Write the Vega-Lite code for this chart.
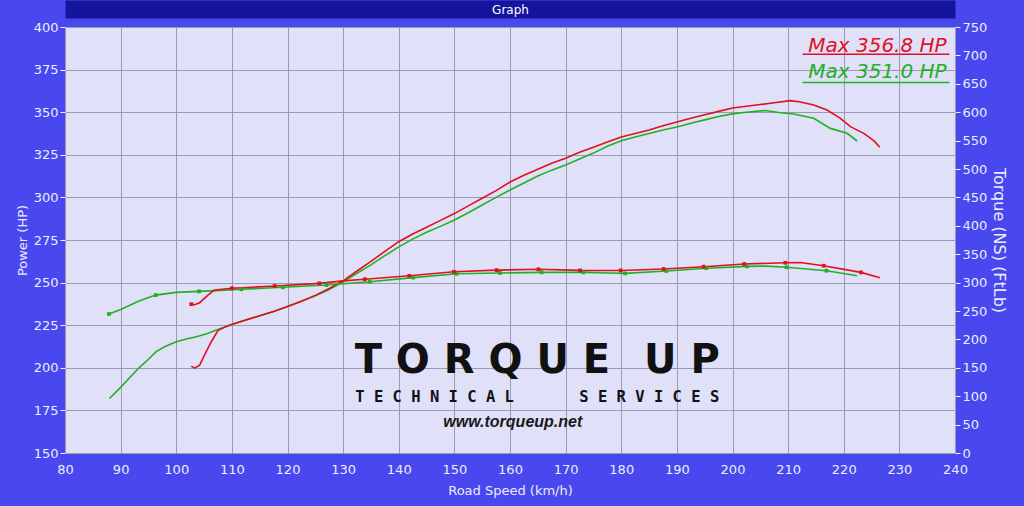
{
  "$schema": "https://vega.github.io/schema/vega-lite/v6.json",
  "width": 890,
  "height": 426,
  "autosize": {"type": "none"},
  "padding": {"left": 65, "top": 27, "right": 69, "bottom": 53},
  "background": "#4848ee",
  "config": {
    "view": {"fill": "#e0e0f9", "stroke": null},
    "axis": {
      "labelColor": "#ececff", "labelFont": "DejaVu Sans", "labelFontSize": 13,
      "titleColor": "#ececff", "titleFont": "DejaVu Sans", "titleFontSize": 13, "titleFontWeight": "normal",
      "tickColor": "#ececff", "domain": false, "labelOverlap": false
    }
  },
  "datasets": {
    "power": [
      {"run": "Run 1", "speed": 88, "hp": 182},
      {"run": "Run 1", "speed": 90, "hp": 188.5},
      {"run": "Run 1", "speed": 91.7, "hp": 194.5},
      {"run": "Run 1", "speed": 93.4, "hp": 200.3},
      {"run": "Run 1", "speed": 95, "hp": 205},
      {"run": "Run 1", "speed": 96.4, "hp": 209.5},
      {"run": "Run 1", "speed": 98, "hp": 212.5},
      {"run": "Run 1", "speed": 100, "hp": 215.3},
      {"run": "Run 1", "speed": 102, "hp": 217},
      {"run": "Run 1", "speed": 103.6, "hp": 218.2},
      {"run": "Run 1", "speed": 105.5, "hp": 220},
      {"run": "Run 1", "speed": 107.2, "hp": 222.2},
      {"run": "Run 1", "speed": 110.2, "hp": 225.5},
      {"run": "Run 1", "speed": 112.5, "hp": 228},
      {"run": "Run 1", "speed": 115, "hp": 230.5},
      {"run": "Run 1", "speed": 117.5, "hp": 233},
      {"run": "Run 1", "speed": 120, "hp": 236},
      {"run": "Run 1", "speed": 122.5, "hp": 239},
      {"run": "Run 1", "speed": 125, "hp": 242.3},
      {"run": "Run 1", "speed": 127.5, "hp": 246},
      {"run": "Run 1", "speed": 130, "hp": 250.5},
      {"run": "Run 1", "speed": 132.5, "hp": 255.5},
      {"run": "Run 1", "speed": 135, "hp": 260.4},
      {"run": "Run 1", "speed": 137.5, "hp": 265.8},
      {"run": "Run 1", "speed": 140, "hp": 271},
      {"run": "Run 1", "speed": 142.5, "hp": 275.5},
      {"run": "Run 1", "speed": 145, "hp": 279.5},
      {"run": "Run 1", "speed": 147.5, "hp": 283},
      {"run": "Run 1", "speed": 150, "hp": 286.7},
      {"run": "Run 1", "speed": 152.5, "hp": 291},
      {"run": "Run 1", "speed": 155, "hp": 295.5},
      {"run": "Run 1", "speed": 157.5, "hp": 300},
      {"run": "Run 1", "speed": 160, "hp": 304.3},
      {"run": "Run 1", "speed": 162.5, "hp": 308.5},
      {"run": "Run 1", "speed": 165, "hp": 312.5},
      {"run": "Run 1", "speed": 167.5, "hp": 316},
      {"run": "Run 1", "speed": 170, "hp": 319},
      {"run": "Run 1", "speed": 172.5, "hp": 322.5},
      {"run": "Run 1", "speed": 175, "hp": 326},
      {"run": "Run 1", "speed": 177.5, "hp": 330},
      {"run": "Run 1", "speed": 180, "hp": 333.3},
      {"run": "Run 1", "speed": 182.5, "hp": 335.5},
      {"run": "Run 1", "speed": 185, "hp": 337.5},
      {"run": "Run 1", "speed": 187.5, "hp": 339.5},
      {"run": "Run 1", "speed": 190, "hp": 341.3},
      {"run": "Run 1", "speed": 192.5, "hp": 343.5},
      {"run": "Run 1", "speed": 195, "hp": 345.5},
      {"run": "Run 1", "speed": 197.5, "hp": 347.5},
      {"run": "Run 1", "speed": 200, "hp": 349},
      {"run": "Run 1", "speed": 202.5, "hp": 350},
      {"run": "Run 1", "speed": 205.9, "hp": 351},
      {"run": "Run 1", "speed": 208.6, "hp": 349.7},
      {"run": "Run 1", "speed": 211, "hp": 348.9},
      {"run": "Run 1", "speed": 214.6, "hp": 346.4},
      {"run": "Run 1", "speed": 217.6, "hp": 340.5},
      {"run": "Run 1", "speed": 220.6, "hp": 337.6},
      {"run": "Run 1", "speed": 222.4, "hp": 333.1},
      {"run": "Run 2", "speed": 102.7, "hp": 201},
      {"run": "Run 2", "speed": 103.3, "hp": 199.8},
      {"run": "Run 2", "speed": 104.2, "hp": 201.6},
      {"run": "Run 2", "speed": 105.1, "hp": 207.6},
      {"run": "Run 2", "speed": 106.3, "hp": 215.3},
      {"run": "Run 2", "speed": 107.5, "hp": 221.8},
      {"run": "Run 2", "speed": 109, "hp": 224.3},
      {"run": "Run 2", "speed": 110, "hp": 225.5},
      {"run": "Run 2", "speed": 112.5, "hp": 228},
      {"run": "Run 2", "speed": 115, "hp": 230.5},
      {"run": "Run 2", "speed": 117.5, "hp": 233},
      {"run": "Run 2", "speed": 120, "hp": 236},
      {"run": "Run 2", "speed": 122.5, "hp": 239},
      {"run": "Run 2", "speed": 125, "hp": 242.5},
      {"run": "Run 2", "speed": 127.5, "hp": 246.5},
      {"run": "Run 2", "speed": 130, "hp": 251},
      {"run": "Run 2", "speed": 132.5, "hp": 256.8},
      {"run": "Run 2", "speed": 135, "hp": 262.5},
      {"run": "Run 2", "speed": 137.5, "hp": 268.3},
      {"run": "Run 2", "speed": 140, "hp": 274},
      {"run": "Run 2", "speed": 142.5, "hp": 278.5},
      {"run": "Run 2", "speed": 145, "hp": 282.5},
      {"run": "Run 2", "speed": 147.5, "hp": 286.5},
      {"run": "Run 2", "speed": 150, "hp": 290.5},
      {"run": "Run 2", "speed": 152.5, "hp": 295},
      {"run": "Run 2", "speed": 155, "hp": 299.5},
      {"run": "Run 2", "speed": 157.5, "hp": 304},
      {"run": "Run 2", "speed": 160, "hp": 309},
      {"run": "Run 2", "speed": 162.5, "hp": 313},
      {"run": "Run 2", "speed": 165, "hp": 316.5},
      {"run": "Run 2", "speed": 167.5, "hp": 320},
      {"run": "Run 2", "speed": 170, "hp": 323},
      {"run": "Run 2", "speed": 172.5, "hp": 326.5},
      {"run": "Run 2", "speed": 175, "hp": 329.5},
      {"run": "Run 2", "speed": 177.5, "hp": 332.5},
      {"run": "Run 2", "speed": 180, "hp": 335.5},
      {"run": "Run 2", "speed": 182.5, "hp": 337.5},
      {"run": "Run 2", "speed": 185, "hp": 339.5},
      {"run": "Run 2", "speed": 187.5, "hp": 342},
      {"run": "Run 2", "speed": 190, "hp": 344.2},
      {"run": "Run 2", "speed": 192.5, "hp": 346.5},
      {"run": "Run 2", "speed": 195, "hp": 348.5},
      {"run": "Run 2", "speed": 197.5, "hp": 350.5},
      {"run": "Run 2", "speed": 200, "hp": 352.5},
      {"run": "Run 2", "speed": 202.5, "hp": 353.5},
      {"run": "Run 2", "speed": 205, "hp": 354.5},
      {"run": "Run 2", "speed": 207.5, "hp": 355.5},
      {"run": "Run 2", "speed": 210.4, "hp": 356.8},
      {"run": "Run 2", "speed": 212.2, "hp": 356},
      {"run": "Run 2", "speed": 214.6, "hp": 354.2},
      {"run": "Run 2", "speed": 217, "hp": 351.3},
      {"run": "Run 2", "speed": 219.4, "hp": 346.4},
      {"run": "Run 2", "speed": 221.2, "hp": 341.5},
      {"run": "Run 2", "speed": 223.6, "hp": 337.6},
      {"run": "Run 2", "speed": 225.4, "hp": 333.3},
      {"run": "Run 2", "speed": 226.5, "hp": 329.4}
    ],
    "torque": [
      {"run": "Run 1", "speed": 87.9, "ftlb": 244.7},
      {"run": "Run 1", "speed": 90, "ftlb": 252.8},
      {"run": "Run 1", "speed": 93.4, "ftlb": 268},
      {"run": "Run 1", "speed": 96.3, "ftlb": 278},
      {"run": "Run 1", "speed": 100, "ftlb": 282.8},
      {"run": "Run 1", "speed": 104.1, "ftlb": 284.5},
      {"run": "Run 1", "speed": 107.2, "ftlb": 285.8},
      {"run": "Run 1", "speed": 111.7, "ftlb": 288.2},
      {"run": "Run 1", "speed": 119.2, "ftlb": 291.7},
      {"run": "Run 1", "speed": 127, "ftlb": 295.7},
      {"run": "Run 1", "speed": 134.8, "ftlb": 301.4},
      {"run": "Run 1", "speed": 142.6, "ftlb": 308.8},
      {"run": "Run 1", "speed": 150.4, "ftlb": 315.5},
      {"run": "Run 1", "speed": 158.2, "ftlb": 317},
      {"run": "Run 1", "speed": 165.7, "ftlb": 318},
      {"run": "Run 1", "speed": 173.2, "ftlb": 318},
      {"run": "Run 1", "speed": 178, "ftlb": 317},
      {"run": "Run 1", "speed": 180.7, "ftlb": 316.2},
      {"run": "Run 1", "speed": 188.1, "ftlb": 320.4},
      {"run": "Run 1", "speed": 195.3, "ftlb": 325.3},
      {"run": "Run 1", "speed": 202.6, "ftlb": 328.6},
      {"run": "Run 1", "speed": 206, "ftlb": 329},
      {"run": "Run 1", "speed": 209.7, "ftlb": 327},
      {"run": "Run 1", "speed": 216.9, "ftlb": 321},
      {"run": "Run 1", "speed": 222.4, "ftlb": 312},
      {"run": "Run 2", "speed": 102.7, "ftlb": 262},
      {"run": "Run 2", "speed": 103.3, "ftlb": 261},
      {"run": "Run 2", "speed": 104.2, "ftlb": 264.6},
      {"run": "Run 2", "speed": 105.7, "ftlb": 278},
      {"run": "Run 2", "speed": 106.9, "ftlb": 287},
      {"run": "Run 2", "speed": 110, "ftlb": 290},
      {"run": "Run 2", "speed": 117.7, "ftlb": 294},
      {"run": "Run 2", "speed": 125.7, "ftlb": 298.7},
      {"run": "Run 2", "speed": 130, "ftlb": 303},
      {"run": "Run 2", "speed": 133.9, "ftlb": 306},
      {"run": "Run 2", "speed": 141.9, "ftlb": 312},
      {"run": "Run 2", "speed": 149.9, "ftlb": 319},
      {"run": "Run 2", "speed": 157.6, "ftlb": 322},
      {"run": "Run 2", "speed": 165.1, "ftlb": 323.4},
      {"run": "Run 2", "speed": 172.6, "ftlb": 321.5},
      {"run": "Run 2", "speed": 179.9, "ftlb": 321.4},
      {"run": "Run 2", "speed": 187.6, "ftlb": 324},
      {"run": "Run 2", "speed": 194.8, "ftlb": 328},
      {"run": "Run 2", "speed": 202.1, "ftlb": 332.7},
      {"run": "Run 2", "speed": 209.5, "ftlb": 335},
      {"run": "Run 2", "speed": 212.2, "ftlb": 335.5},
      {"run": "Run 2", "speed": 216.4, "ftlb": 329.7},
      {"run": "Run 2", "speed": 223.1, "ftlb": 318},
      {"run": "Run 2", "speed": 226.5, "ftlb": 308.7}
    ],
    "torqueMarkers": [
      {"run": "Run 1", "speed": 87.9, "ftlb": 244.7},
      {"run": "Run 1", "speed": 96.3, "ftlb": 278},
      {"run": "Run 1", "speed": 104.1, "ftlb": 284.5},
      {"run": "Run 1", "speed": 111.7, "ftlb": 288.2},
      {"run": "Run 1", "speed": 119.2, "ftlb": 291.7},
      {"run": "Run 1", "speed": 127, "ftlb": 295.7},
      {"run": "Run 1", "speed": 134.8, "ftlb": 301.4},
      {"run": "Run 1", "speed": 142.6, "ftlb": 308.8},
      {"run": "Run 1", "speed": 150.4, "ftlb": 315.5},
      {"run": "Run 1", "speed": 158.2, "ftlb": 317},
      {"run": "Run 1", "speed": 165.7, "ftlb": 318},
      {"run": "Run 1", "speed": 173.2, "ftlb": 318},
      {"run": "Run 1", "speed": 180.7, "ftlb": 316.2},
      {"run": "Run 1", "speed": 188.1, "ftlb": 320.4},
      {"run": "Run 1", "speed": 195.3, "ftlb": 325.3},
      {"run": "Run 1", "speed": 202.6, "ftlb": 328.6},
      {"run": "Run 1", "speed": 209.7, "ftlb": 327},
      {"run": "Run 1", "speed": 216.9, "ftlb": 321},
      {"run": "Run 2", "speed": 102.7, "ftlb": 262},
      {"run": "Run 2", "speed": 110, "ftlb": 290},
      {"run": "Run 2", "speed": 117.7, "ftlb": 294},
      {"run": "Run 2", "speed": 125.7, "ftlb": 298.7},
      {"run": "Run 2", "speed": 133.9, "ftlb": 306},
      {"run": "Run 2", "speed": 141.9, "ftlb": 312},
      {"run": "Run 2", "speed": 149.9, "ftlb": 319},
      {"run": "Run 2", "speed": 157.6, "ftlb": 322},
      {"run": "Run 2", "speed": 165.1, "ftlb": 323.4},
      {"run": "Run 2", "speed": 172.6, "ftlb": 321.5},
      {"run": "Run 2", "speed": 179.9, "ftlb": 321.4},
      {"run": "Run 2", "speed": 187.6, "ftlb": 324},
      {"run": "Run 2", "speed": 194.8, "ftlb": 328},
      {"run": "Run 2", "speed": 202.1, "ftlb": 332.7},
      {"run": "Run 2", "speed": 209.5, "ftlb": 335},
      {"run": "Run 2", "speed": 216.4, "ftlb": 329.7},
      {"run": "Run 2", "speed": 223.1, "ftlb": 318}
    ]
  },
  "layer": [
    {
      "layer": [
        {
          "data": {"name": "power"},
          "mark": {"type": "line", "strokeWidth": 1.6, "clip": true},
          "encoding": {
            "x": {"field": "speed", "type": "quantitative", "scale": {"domain": [80, 240], "nice": false, "zero": false},
              "axis": {"title": "Road Speed (km/h)", "values": [80, 90, 100, 110, 120, 130, 140, 150, 160, 170, 180, 190, 200, 210, 220, 230, 240], "grid": true, "gridColor": "#9a9ab2", "gridWidth": 1, "ticks": false, "labelPadding": 10, "titlePadding": 8, "labelFlush": false, "labelOverlap": false}},
            "y": {"field": "hp", "type": "quantitative", "scale": {"domain": [150, 400], "nice": false, "zero": false},
              "axis": {"title": "Power (HP)", "orient": "left", "values": [150, 175, 200, 225, 250, 275, 300, 325, 350, 375, 400], "grid": true, "gridColor": "#9a9ab2", "gridWidth": 1, "tickSize": 5, "labelPadding": 2, "titlePadding": 4, "labelFlush": false, "labelOverlap": false}},
            "color": {"field": "run", "type": "nominal", "scale": {"domain": ["Run 1", "Run 2"], "range": ["#22b022", "#e0101e"]}, "legend": null}
          }
        },
        {
          "data": {"values": [{}]},
          "mark": {"type": "text", "align": "center", "baseline": "alphabetic", "font": "DejaVu Sans", "fontWeight": "bold", "fontSize": 40, "color": "#111111"},
          "encoding": {"x": {"datum": 164.9}, "y": {"datum": 197.1}, "text": {"value": "T\u00a0O\u00a0R\u00a0Q\u00a0U\u00a0E\u2002\u00a0U\u00a0P"}}
        },
        {
          "data": {"values": [{}]},
          "mark": {"type": "text", "align": "center", "baseline": "alphabetic", "font": "DejaVu Sans Mono", "fontWeight": "bold", "fontSize": 15.5, "color": "#111111"},
          "encoding": {"x": {"datum": 164.9}, "y": {"datum": 180.1}, "text": {"value": "T\u00a0E\u00a0C\u00a0H\u00a0N\u00a0I\u00a0C\u00a0A\u00a0L\u00a0\u00a0\u00a0\u00a0\u00a0\u00a0\u00a0S\u00a0E\u00a0R\u00a0V\u00a0I\u00a0C\u00a0E\u00a0S"}}
        },
        {
          "data": {"values": [{}]},
          "mark": {"type": "text", "align": "center", "baseline": "alphabetic", "font": "Liberation Sans", "fontWeight": "bold", "fontStyle": "italic", "fontSize": 16, "color": "#1a1a1a"},
          "encoding": {"x": {"datum": 160.5}, "y": {"datum": 165.5}, "text": {"value": "www.torqueup.net"}}
        },
        {
          "data": {"values": [{}]},
          "mark": {"type": "text", "align": "right", "baseline": "alphabetic", "font": "DejaVu Sans", "fontStyle": "italic", "fontSize": 20, "color": "#e0101e"},
          "encoding": {"x": {"datum": 238.5}, "y": {"datum": 385.5}, "text": {"value": "Max 356.8 HP"}}
        },
        {
          "data": {"values": [{}]},
          "mark": {"type": "text", "align": "right", "baseline": "alphabetic", "font": "DejaVu Sans", "fontStyle": "italic", "fontSize": 20, "color": "#22b022"},
          "encoding": {"x": {"datum": 238.5}, "y": {"datum": 369.9}, "text": {"value": "Max 351.0 HP"}}
        },
        {
          "data": {"values": [{}]},
          "mark": {"type": "rule", "color": "#e0101e", "strokeWidth": 1.5},
          "encoding": {"x": {"datum": 212.6}, "x2": {"datum": 239}, "y": {"datum": 384}}
        },
        {
          "data": {"values": [{}]},
          "mark": {"type": "rule", "color": "#22b022", "strokeWidth": 1.5},
          "encoding": {"x": {"datum": 212.6}, "x2": {"datum": 239}, "y": {"datum": 367.5}}
        }
      ]
    },
    {
      "layer": [
        {
          "data": {"name": "torque"},
          "mark": {"type": "line", "strokeWidth": 1.6, "clip": true},
          "encoding": {
            "x": {"field": "speed", "type": "quantitative", "scale": {"domain": [80, 240], "nice": false, "zero": false},
              "axis": {"orient": "top", "title": "Graph", "titleColor": "#ffffff", "titleFont": "DejaVu Sans", "titleFontSize": 12, "titleBaseline": "middle", "titleY": 0, "labels": false, "ticks": false, "grid": false, "domain": true, "domainColor": "#14149c", "domainWidth": 18, "offset": 18}},
            "y": {"field": "ftlb", "type": "quantitative", "scale": {"domain": [0, 750], "nice": false, "zero": false},
              "axis": {"title": "Torque (NS) (FtLb)", "orient": "right", "titleAngle": 90, "titleFontSize": 16, "values": [0, 50, 100, 150, 200, 250, 300, 350, 400, 450, 500, 550, 600, 650, 700, 750], "tickCount": 16, "grid": false, "tickSize": 5, "labelPadding": 2, "titlePadding": 4, "labelFlush": false, "labelOverlap": false}},
            "color": {"field": "run", "type": "nominal", "scale": {"domain": ["Run 1", "Run 2"], "range": ["#22b022", "#e0101e"]}, "legend": null}
          }
        },
        {
          "data": {"name": "torqueMarkers"},
          "mark": {"type": "point", "shape": "square", "filled": true, "size": 14, "opacity": 1},
          "encoding": {
            "x": {"field": "speed", "type": "quantitative",
              "axis": {"orient": "top", "title": "Graph", "titleColor": "#ffffff", "titleFont": "DejaVu Sans", "titleFontSize": 12, "titleBaseline": "middle", "titleY": 0, "labels": false, "ticks": false, "grid": false, "domain": true, "domainColor": "#14149c", "domainWidth": 18, "offset": 18}},
            "y": {"field": "ftlb", "type": "quantitative",
              "axis": {"title": "Torque (NS) (FtLb)", "orient": "right", "titleAngle": 90, "titleFontSize": 16, "values": [0, 50, 100, 150, 200, 250, 300, 350, 400, 450, 500, 550, 600, 650, 700, 750], "tickCount": 16, "grid": false, "tickSize": 5, "labelPadding": 2, "titlePadding": 4, "labelFlush": false, "labelOverlap": false}},
            "color": {"field": "run", "type": "nominal", "legend": null}
          }
        }
      ]
    }
  ],
  "resolve": {"scale": {"y": "independent"}, "axis": {"x": "independent"}}
}
